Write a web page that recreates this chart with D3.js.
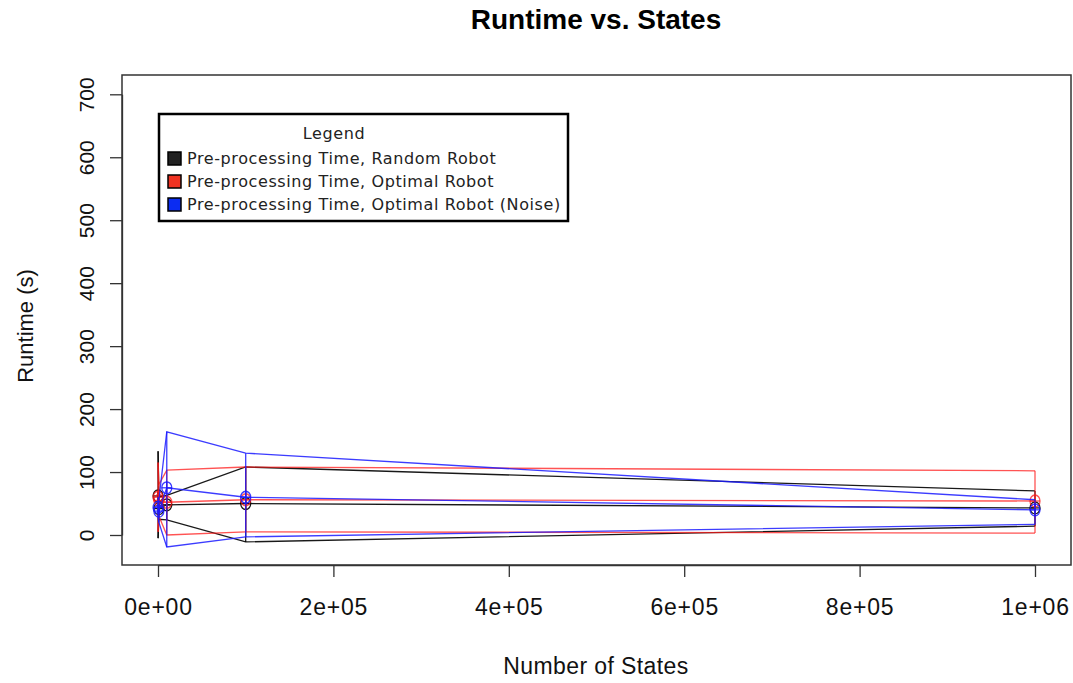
<!DOCTYPE html>
<html>
<head>
<meta charset="utf-8">
<script src="https://cdn.jsdelivr.net/npm/d3@7"></script>
<style>
  body { margin: 0; background: #fff; }
  text { font-family: "Liberation Sans", Arial, sans-serif; }
</style>
</head>
<body>
<svg id="chart" width="1073" height="683"></svg>
<script>
// number of states on x
const states = [100, 1000, 10000, 100000, 1000000];

// Pre-processing time, random robot
const randomMean = [62, 42, 48, 50, 43];
const randomLo = [-5, 25, 24, -11, 14];
const randomHi = [133, 60, 63, 108, 70];

// Pre-processing time, optimal robot
const optimalMean = [60, 55, 52, 56, 54];
const optimalLo = [5, 30, 0, 5, 3];
const optimalHi = [115, 80, 103, 108, 102];

// Pre-processing time, optimal robot (noise)
const noiseMean = [44, 38, 75, 60, 40];
const noiseLo = [28, 20, -19, -3, 17];
const noiseHi = [60, 56, 164, 130, 56];

const yTicks = [0, 100, 200, 300, 400, 500, 600, 700];
const xTicks = [0, 200000, 400000, 600000, 800000, 1000000];
const xTickLabels = ['0e+00', '2e+05', '4e+05', '6e+05', '8e+05', '1e+06'];

const legendLabels = [
  'Pre-processing Time, Random Robot',
  'Pre-processing Time, Optimal Robot',
  'Pre-processing Time, Optimal Robot (Noise)'
];

const series = [
  { mean: randomMean, lo: randomLo, hi: randomHi, color: '#000000', opacity: 0.9, swatch: '#222222' },
  { mean: optimalMean, lo: optimalLo, hi: optimalHi, color: '#ff1a1a', opacity: 0.75, swatch: '#f03322' },
  { mean: noiseMean, lo: noiseLo, hi: noiseHi, color: '#1a1aff', opacity: 0.85, swatch: '#0b2cf2' }
];

const svg = d3.select('#chart');
svg.append('rect').attr('width', 1073).attr('height', 683).attr('fill', '#fff');

const x = d3.scaleLinear().domain([0, 1000000]).range([158, 1035]);
const y = d3.scaleLinear().domain([0, 700]).range([535, 94.3]);

// plot box
svg.append('rect')
  .attr('x', 122).attr('y', 75)
  .attr('width', 949).attr('height', 490)
  .attr('fill', 'none').attr('stroke', '#333').attr('stroke-width', 1.5);

// axes
const yAxis = svg.append('g')
  .attr('transform', 'translate(122,0)')
  .call(d3.axisLeft(y).tickValues(yTicks).tickSize(12).tickSizeOuter(0));
yAxis.selectAll('text')
  .attr('transform', 'rotate(-90)')
  .attr('x', 0).attr('dy', 0).attr('y', -28)
  .style('text-anchor', 'middle')
  .style('font-size', '21px')
  .style('font-family', '"Liberation Sans", Arial, sans-serif')
  .attr('fill', '#111');

const xAxis = svg.append('g')
  .attr('transform', 'translate(0,565)')
  .call(d3.axisBottom(x).tickValues(xTicks).tickSize(12).tickSizeOuter(0)
    .tickFormat((d, i) => xTickLabels[i]));
xAxis.selectAll('text')
  .attr('y', 50).attr('dy', 0)
  .style('font-size', '23px')
  .style('letter-spacing', '0.8px')
  .style('font-family', '"Liberation Sans", Arial, sans-serif')
  .attr('fill', '#111');
svg.selectAll('.domain, .tick line').attr('stroke', '#333').attr('stroke-width', 1.3);

// titles
svg.append('text').attr('x', 596).attr('y', 29)
  .attr('text-anchor', 'middle')
  .style('font-size', '28px').style('font-weight', 'bold')
  .text('Runtime vs. States');
svg.append('text').attr('x', 596).attr('y', 674)
  .attr('text-anchor', 'middle').style('font-size', '23px').style('letter-spacing', '0.4px').attr('fill', '#111')
  .text('Number of States');
svg.append('text')
  .attr('transform', 'translate(33,326) rotate(-90)')
  .attr('text-anchor', 'middle').style('font-size', '22px').attr('fill', '#111')
  .text('Runtime (s)');

// series
const line = (arr) => d3.line().x((d, i) => x(states[i])).y(d => y(d))(arr);
const plot = svg.append('g');
series.forEach(s => {
  const g = plot.append('g')
    .attr('stroke', s.color).attr('stroke-opacity', s.opacity)
    .attr('fill', 'none').attr('stroke-width', 1.3);
  g.append('path').attr('d', line(s.hi));
  g.append('path').attr('d', line(s.mean));
  g.append('path').attr('d', line(s.lo));
  g.selectAll('line.bar').data(states).join('line')
    .attr('class', 'bar')
    .attr('x1', d => x(d)).attr('x2', d => x(d))
    .attr('y1', (d, i) => y(s.lo[i])).attr('y2', (d, i) => y(s.hi[i]));
  const pts = g.selectAll('g.pt').data(states).join('g')
    .attr('class', 'pt')
    .attr('transform', (d, i) => `translate(${x(d)},${y(s.mean[i])})`);
  pts.append('ellipse').attr('rx', 5).attr('ry', 6);
  pts.append('line').attr('x1', -5).attr('x2', 5);
  pts.append('line').attr('y1', -6).attr('y2', 6);
});

// legend
const legend = svg.append('g').attr('transform', 'translate(159,114)');
legend.append('rect').attr('width', 409).attr('height', 107)
  .attr('fill', '#fff').attr('stroke', '#000').attr('stroke-width', 2.5);
legend.append('text').attr('x', 175).attr('y', 25)
  .attr('text-anchor', 'middle')
  .style('font-family', '"DejaVu Sans", sans-serif').style('font-size', '16px')
  .style('letter-spacing', '0.6px').attr('fill', '#222')
  .text('Legend');
const rows = legend.selectAll('g.row').data(legendLabels).join('g')
  .attr('class', 'row')
  .attr('transform', (d, i) => `translate(0,${44 + i * 23})`);
rows.append('rect').attr('x', 9).attr('y', -6).attr('width', 13).attr('height', 13)
  .attr('fill', (d, i) => series[i].swatch).attr('stroke', '#000').attr('stroke-width', 1.5);
rows.append('text').attr('x', 28).attr('y', 6)
  .style('font-family', '"DejaVu Sans", sans-serif').style('font-size', '16px')
  .style('letter-spacing', '0.6px').attr('fill', '#222')
  .text(d => d);
</script>
</body>
</html>
